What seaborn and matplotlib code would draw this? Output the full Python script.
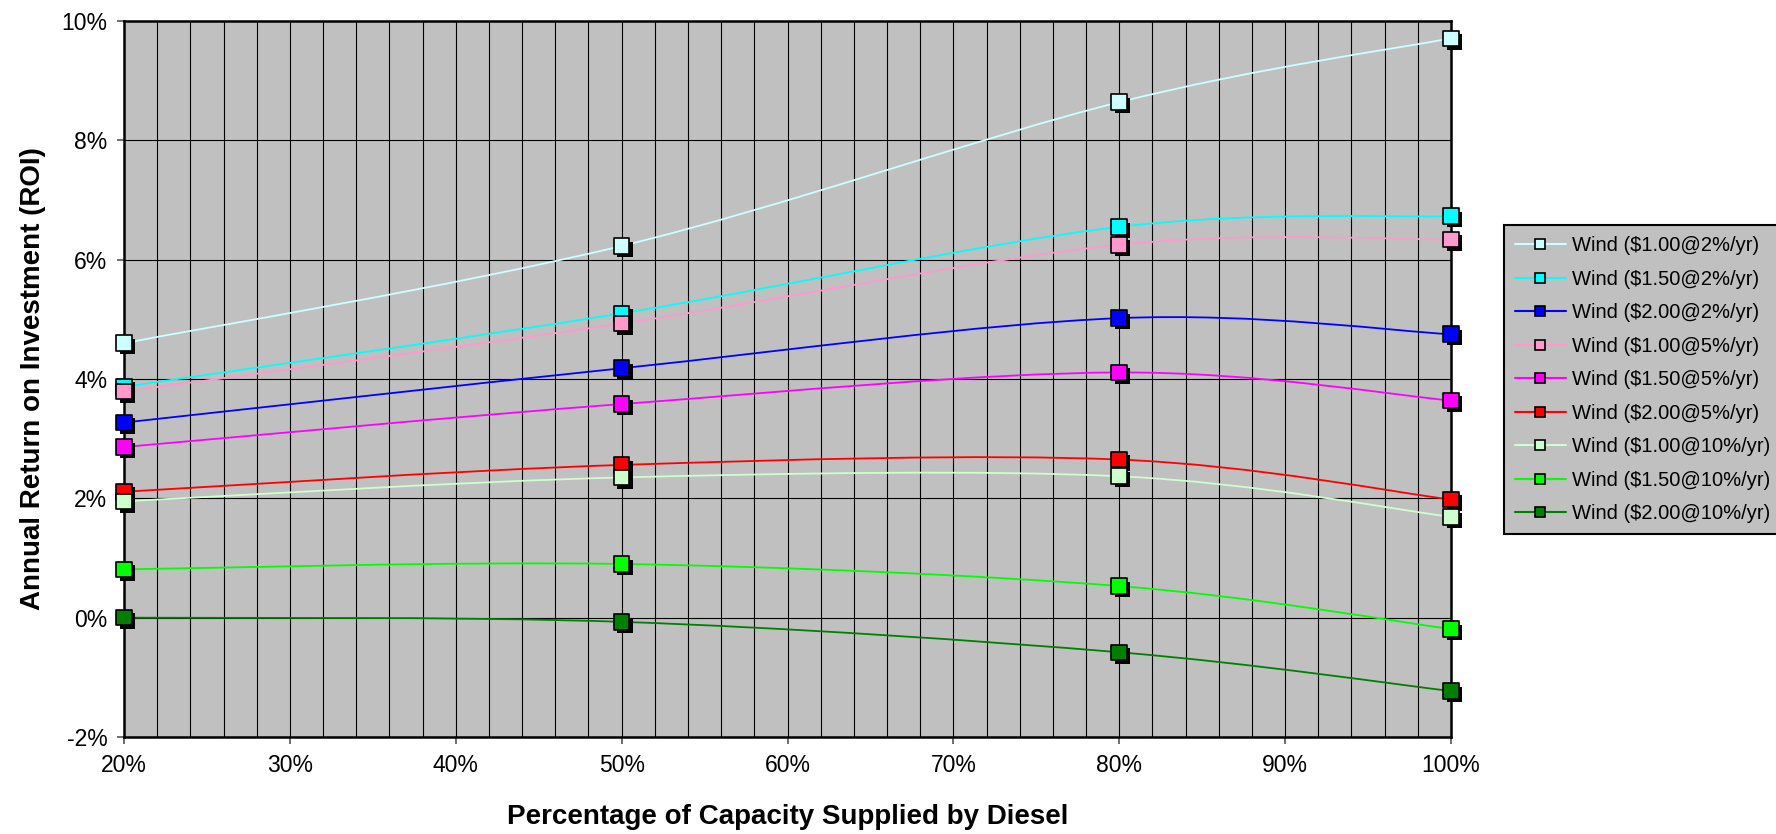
import numpy as np
import pandas as pd
import matplotlib
matplotlib.use("Agg")
import matplotlib.pyplot as plt
import matplotlib.patheffects as pe
from matplotlib.path import Path
from matplotlib.patches import PathPatch
from matplotlib.lines import Line2D
from matplotlib.ticker import MultipleLocator, FuncFormatter
import seaborn as sns

# ==========================================
# Data (ROI in %)
# ==========================================
diesel_pct = [20, 50, 80, 100]

series_names = [
    "Wind ($1.00@2%/yr)", "Wind ($1.50@2%/yr)", "Wind ($2.00@2%/yr)",
    "Wind ($1.00@5%/yr)", "Wind ($1.50@5%/yr)", "Wind ($2.00@5%/yr)",
    "Wind ($1.00@10%/yr)", "Wind ($1.50@10%/yr)", "Wind ($2.00@10%/yr)",
]

roi_100_2 = [4.60, 6.23, 8.64, 9.71]
roi_150_2 = [3.87, 5.10, 6.55, 6.73]
roi_200_2 = [3.27, 4.18, 5.02, 4.75]
roi_100_5 = [3.79, 4.93, 6.25, 6.34]
roi_150_5 = [2.86, 3.58, 4.11, 3.64]
roi_200_5 = [2.11, 2.56, 2.65, 1.98]
roi_100_10 = [1.95, 2.35, 2.37, 1.69]
roi_150_10 = [0.81, 0.90, 0.53, -0.19]
roi_200_10 = [0.00, -0.07, -0.58, -1.23]

series_values = [roi_100_2, roi_150_2, roi_200_2,
                 roi_100_5, roi_150_5, roi_200_5,
                 roi_100_10, roi_150_10, roi_200_10]

colors = ["#CCFFFF", "#00FFFF", "#0000FF",
          "#FF99CC", "#FF00FF", "#FF0000",
          "#CCFFCC", "#00FF00", "#008000"]

df = pd.DataFrame([
    {"Diesel": x, "ROI": y, "Series": name}
    for name, vals in zip(series_names, series_values)
    for x, y in zip(diesel_pct, vals)
])


def smooth_path(xs, ys):
    """Excel-style smoothed line: cubic Bezier through the points (Catmull-Rom tangents)."""
    pts = np.column_stack([xs, ys]).astype(float)
    n = len(pts)
    verts = [pts[0]]
    codes = [Path.MOVETO]
    for i in range(n - 1):
        p_prev = pts[max(i - 1, 0)]
        p0, p1 = pts[i], pts[i + 1]
        p_next = pts[min(i + 2, n - 1)]
        c1 = p0 + (p1 - p_prev) / 6.0
        c2 = p1 - (p_next - p0) / 6.0
        verts += [c1, c2, p1]
        codes += [Path.CURVE4] * 3
    return Path(verts, codes)


# ==========================================
# Plot
# ==========================================
sns.set_style("ticks")
plt.rcParams['font.family'] = ['Liberation Sans', 'DejaVu Sans']
plt.rcParams.update({'text.color': 'black', 'axes.labelcolor': 'black',
                     'xtick.labelcolor': 'black', 'ytick.labelcolor': 'black'})

fig = plt.figure(figsize=(17.76, 8.34), dpi=100)
ax = fig.add_axes([124 / 1776, 1 - 737 / 834, 1327 / 1776, 716 / 834])
ax.set_facecolor("#C0C0C0")

# smoothed lines under the markers
for name, color in zip(series_names, colors):
    sub = df[df["Series"] == name]
    patch = PathPatch(smooth_path(sub["Diesel"], sub["ROI"]), facecolor="none",
                      edgecolor=color, lw=1.3, zorder=2)
    ax.add_patch(patch)

# square markers with drop shadow
sns.scatterplot(data=df, x="Diesel", y="ROI", hue="Series", hue_order=series_names,
                palette=colors, marker="s", s=125, edgecolor="black", linewidth=1.2,
                legend=False, zorder=3, ax=ax)
for coll in ax.collections:
    coll.set_path_effects([pe.SimplePatchShadow(offset=(2.5, -2.5), shadow_rgbFace="black", alpha=1.0),
                           pe.Normal()])
    coll.set_clip_on(False)

# axes, grid and ticks
ax.set_xlim(20, 100)
ax.set_ylim(-2, 10)
ax.xaxis.set_major_locator(MultipleLocator(10))
ax.xaxis.set_minor_locator(MultipleLocator(2))
ax.yaxis.set_major_locator(MultipleLocator(2))
pct = FuncFormatter(lambda v, _: f"{v:.0f}%")
ax.xaxis.set_major_formatter(pct)
ax.yaxis.set_major_formatter(pct)
ax.grid(which="both", axis="x", color="black", lw=0.8)
ax.grid(which="major", axis="y", color="black", lw=0.8)
ax.set_axisbelow(True)
ax.tick_params(axis="both", which="major", direction="out", length=5, width=1.2,
               color="#555555", labelsize=16.5, pad=7, labelcolor="black")
ax.tick_params(axis="x", which="minor", length=0)
for sp in ax.spines.values():
    sp.set_visible(True)
    sp.set_color("black")
    sp.set_linewidth(1.8)

ax.set_xlabel("Percentage of Capacity Supplied by Diesel", fontsize=20, fontweight="bold",
              labelpad=20, color="black")
ax.set_ylabel("Annual Return on Investment (ROI)", fontsize=20, fontweight="bold",
              labelpad=11, color="black")

# legend
handles = [Line2D([0], [0], color=c, lw=1.5, marker="s", markersize=7.5,
                  markerfacecolor=c, markeredgecolor="black", markeredgewidth=1.2)
           for c in colors]
leg = ax.legend(handles, series_names, loc="upper left", bbox_to_anchor=(1.040, 0.715),
                borderaxespad=0, fontsize=14.5, frameon=True, fancybox=False,
                facecolor="#C0C0C0", edgecolor="black", framealpha=1,
                handlelength=2.5, handletextpad=0.3, labelspacing=0.72, borderpad=0.55)
leg.get_frame().set_linewidth(1.5)
for t in leg.get_texts():
    t.set_color("black")

plt.savefig("out.png", dpi=100)
